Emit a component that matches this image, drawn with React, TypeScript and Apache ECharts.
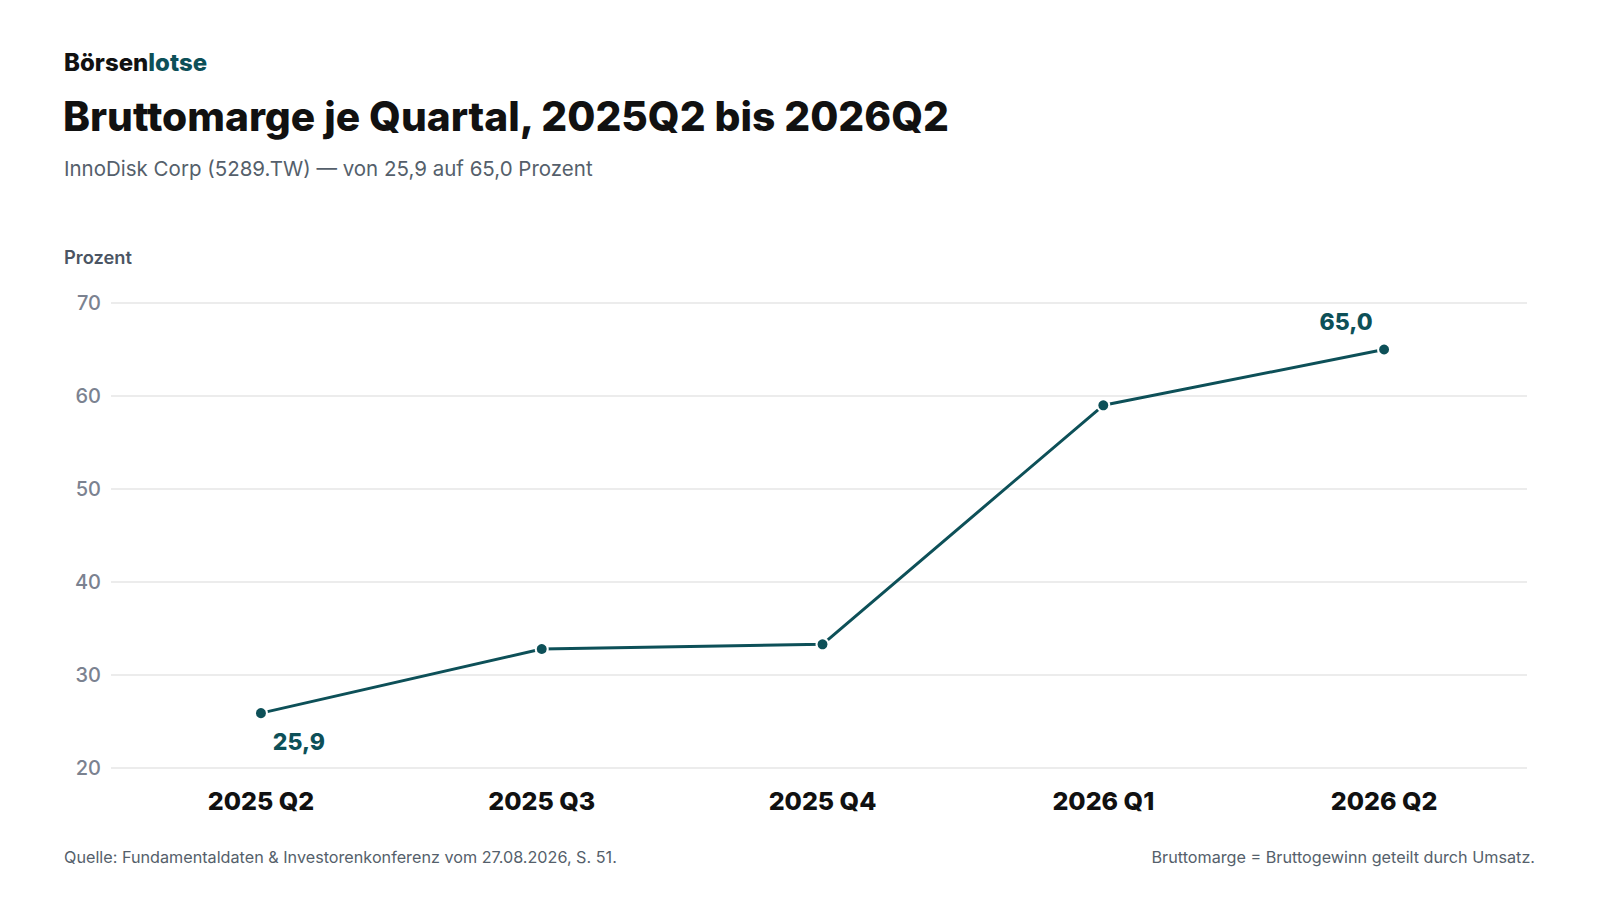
import React from 'react';
import * as echarts from 'echarts';

const quarters = ['2025 Q2', '2025 Q3', '2025 Q4', '2026 Q1', '2026 Q2'];
const grossMargin = [25.9, 32.8, 33.3, 59.0, 65.0];
const yTicks = { min: 20, max: 70, interval: 10 };

const TEAL = '#0d5058';
const FONT = 'Inter, "Noto Sans", sans-serif';

const App: React.FC = () => {
  const chartRef = React.useRef<HTMLDivElement>(null);

  React.useEffect(() => {
    if (!chartRef.current) return;
    const chart = echarts.init(chartRef.current, undefined, { renderer: 'svg' });

    const last = grossMargin.length - 1;
    // quarters sit on an index scale, so the plot can run a little past the outer points
    const seriesData = grossMargin.map((v, i) => {
      if (i === 0) {
        return {
          value: [i, v],
          label: { show: true, position: 'bottom', distance: 10, offset: [38, 0] },
        };
      }
      if (i === last) {
        return {
          value: [i, v],
          label: { show: true, position: 'top', distance: 9, offset: [-38, 0] },
        };
      }
      return { value: [i, v] };
    });

    chart.setOption({
      animation: false,
      textStyle: { fontFamily: FONT },
      grid: { left: 111, right: 73, top: 303, bottom: 132 },
      graphic: [
        {
          type: 'text',
          left: 64,
          top: 50,
          style: {
            text: '{a|Börsen}{b|lotse}',
            rich: {
              a: { fontSize: 24, fontWeight: 800, fill: '#111111', fontFamily: FONT },
              b: { fontSize: 24, fontWeight: 800, fill: TEAL, fontFamily: FONT },
            },
          },
        },
        {
          type: 'text',
          left: 63,
          top: 96,
          style: {
            text: 'Bruttomarge je Quartal, 2025Q2 bis 2026Q2',
            fontSize: 40.7,
            fontWeight: 800,
            fill: '#111111',
            fontFamily: FONT,
          },
        },
        {
          type: 'text',
          left: 64,
          top: 158,
          style: {
            text: 'InnoDisk Corp (5289.TW) — von 25,9 auf 65,0 Prozent',
            fontSize: 20.5,
            fill: '#555f6b',
            fontFamily: FONT,
          },
        },
        {
          type: 'text',
          left: 64,
          top: 248,
          style: {
            text: 'Prozent',
            fontSize: 18.3,
            fontWeight: 600,
            fill: '#4b5563',
            fontFamily: FONT,
          },
        },
        {
          type: 'text',
          left: 64,
          top: 849,
          style: {
            text: 'Quelle: Fundamentaldaten & Investorenkonferenz vom 27.08.2026, S. 51.',
            fontSize: 16.2,
            fill: '#555f6b',
            fontFamily: FONT,
          },
        },
        {
          type: 'text',
          right: 65,
          top: 849,
          style: {
            text: 'Bruttomarge = Bruttogewinn geteilt durch Umsatz.',
            fontSize: 16.2,
            fill: '#555f6b',
            fontFamily: FONT,
          },
        },
      ],
      xAxis: {
        type: 'value',
        min: -0.534,
        max: 4.509,
        splitLine: { show: false },
        axisLine: { show: false },
        axisTick: { show: false },
        axisLabel: {
          customValues: quarters.map((_, i) => i),
          formatter: (v: number) => quarters[Math.round(v)] ?? '',
          margin: 20,
          fontSize: 25,
          fontWeight: 800,
          color: '#111111',
          fontFamily: FONT,
        },
      },
      yAxis: {
        type: 'value',
        min: yTicks.min,
        max: yTicks.max,
        interval: yTicks.interval,
        axisLine: { show: false },
        axisTick: { show: false },
        axisLabel: {
          margin: 10,
          fontSize: 20,
          fontWeight: 500,
          color: '#7b8290',
          fontFamily: FONT,
        },
        splitLine: { lineStyle: { color: '#e6e6e6', width: 1.5 } },
      },
      series: [
        {
          type: 'line',
          data: seriesData,
          symbol: 'circle',
          symbolSize: 12,
          lineStyle: { color: TEAL, width: 3 },
          itemStyle: { color: TEAL, borderColor: '#ffffff', borderWidth: 2 },
          label: {
            show: false,
            fontSize: 23,
            fontWeight: 800,
            color: TEAL,
            fontFamily: FONT,
            formatter: (p: any) => p.value[1].toFixed(1).replace('.', ','),
          },
        },
      ],
    });

    return () => {
      chart.dispose();
    };
  }, []);

  return (
    <div
      ref={chartRef}
      style={{ position: 'fixed', left: 0, top: 0, width: '1600px', height: '900px', background: '#ffffff' }}
    />
  );
};

export default App;
